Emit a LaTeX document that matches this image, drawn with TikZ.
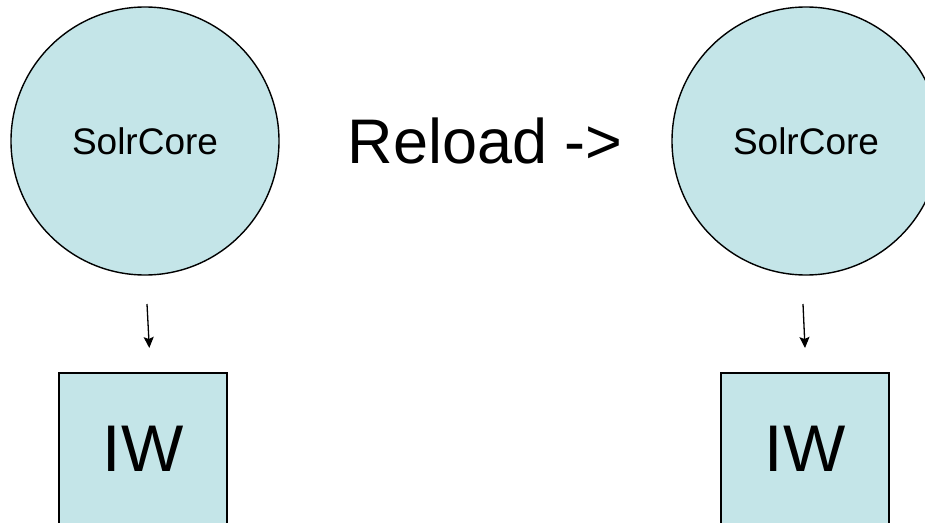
\documentclass[tikz,border=0pt]{standalone}
\usepackage{fontspec}
\setmainfont{Liberation Sans}
\usetikzlibrary{arrows.meta}
\definecolor{corefill}{RGB}{196,229,232}
\begin{document}
\begin{tikzpicture}[x=1pt,y=-1pt,
  core/.style={circle,draw=black,line width=1.4pt,fill=corefill,minimum size=268pt,inner sep=0pt,font=\fontsize{37}{42}\selectfont},
  iwbox/.style={rectangle,draw=black,line width=1.8pt,fill=corefill,minimum width=168pt,minimum height=152pt,inner sep=0pt,font=\fontsize{66}{72}\selectfont},
  link/.style={line width=1.3pt,-{Stealth[length=11pt,width=10pt,inset=2pt]}}]
\useasboundingbox (0,0) rectangle (925,522);
\clip (0,0) rectangle (925,522);
\node[core] (c1) at (145,141) {SolrCore};
\node[core] (c2) at (806,141) {SolrCore};
\node[iwbox] (w1) at (143,449) {IW};
\node[iwbox] (w2) at (805,449) {IW};
\node[anchor=base,font=\fontsize{63}{70}\selectfont,inner sep=0pt] (rl) at (485,163) {Reload ->};
\coordinate (a1s) at (147,304);
\coordinate (a1e) at (149.3,348);
\coordinate (a2s) at (803,304);
\coordinate (a2e) at (805,348);
\draw[link] (a1s) -- (a1e);
\draw[link] (a2s) -- (a2e);
\end{tikzpicture}
\end{document}
